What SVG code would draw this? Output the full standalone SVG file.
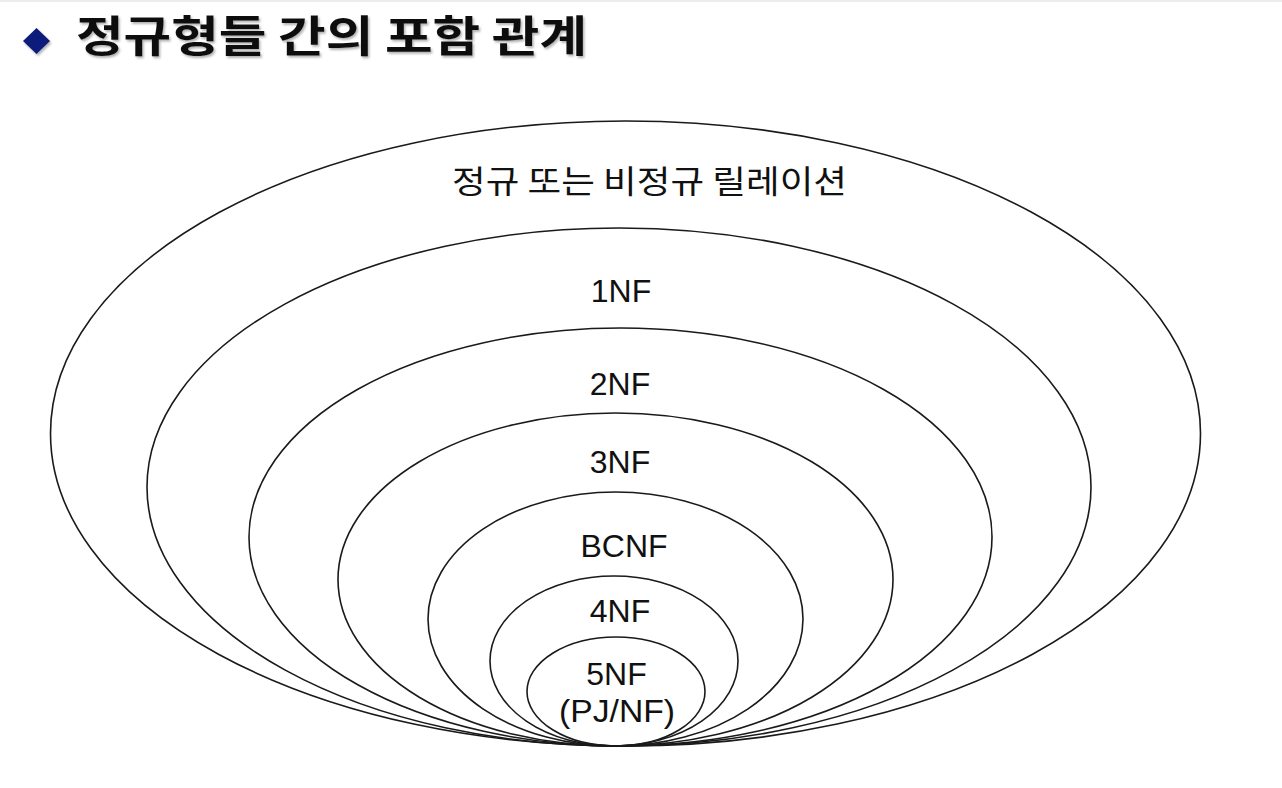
<svg xmlns="http://www.w3.org/2000/svg" width="1282" height="788" viewBox="0 0 1282 788">
  <defs>
    <filter id="shadow" x="-5%" y="-20%" width="110%" height="150%">
      <feDropShadow dx="1.5" dy="2" stdDeviation="1.2" flood-color="#000" flood-opacity="0.3"/>
    </filter>
  </defs>
  <style>
    .ring { fill: none; stroke: #1a1a1a; stroke-width: 1.6; }
    .lbl { font-family: "Liberation Sans", Arial, Helvetica, sans-serif; font-size: 32px; fill: #111; text-anchor: middle; }
    .kr { font-family: "Noto Sans CJK KR", "Noto Sans", sans-serif; fill: #111; }
  </style>
  <rect x="0" y="0" width="1282" height="788" fill="#ffffff"/>
  <line x1="0" y1="1" x2="1282" y2="1" stroke="#e6e6e6" stroke-width="1.5"/>

  <g id="title">
    <polygon points="36.5,28 50,41 36.5,54 23,41" fill="#0c1d7a" filter="url(#shadow)"/>
    <text class="kr" x="76" y="52" font-size="43" font-weight="bold" textLength="511" lengthAdjust="spacingAndGlyphs" filter="url(#shadow)">정규형들 간의 포함 관계</text>
  </g>

  <g id="connectors"></g>

  <g id="relations">
    <ellipse class="ring" cx="625.5" cy="433.5" rx="575" ry="312.5"/>
    <text class="kr" x="452" y="193" font-size="32" textLength="395" lengthAdjust="spacingAndGlyphs">정규 또는 비정규 릴레이션</text>
  </g>

  <g id="nf1">
    <ellipse class="ring" cx="619" cy="487" rx="472" ry="259"/>
    <text class="lbl" x="621" y="302">1NF</text>
  </g>

  <g id="nf2">
    <ellipse class="ring" cx="620.5" cy="537" rx="371.5" ry="209"/>
    <text class="lbl" x="620" y="395">2NF</text>
  </g>

  <g id="nf3">
    <ellipse class="ring" cx="615.5" cy="579.5" rx="277.5" ry="166.5"/>
    <text class="lbl" x="620" y="473">3NF</text>
  </g>

  <g id="bcnf">
    <ellipse class="ring" cx="615.5" cy="619" rx="187.5" ry="127"/>
    <text class="lbl" x="624" y="557">BCNF</text>
  </g>

  <g id="nf4">
    <ellipse class="ring" cx="614" cy="661" rx="124" ry="85"/>
    <text class="lbl" x="620" y="622">4NF</text>
  </g>

  <g id="nf5">
    <ellipse class="ring" cx="616" cy="691.5" rx="89" ry="54.5"/>
    <text class="lbl" x="616.5" y="685">5NF</text>
    <text class="lbl" x="617" y="722" textLength="116" lengthAdjust="spacingAndGlyphs">(PJ/NF)</text>
  </g>
</svg>
